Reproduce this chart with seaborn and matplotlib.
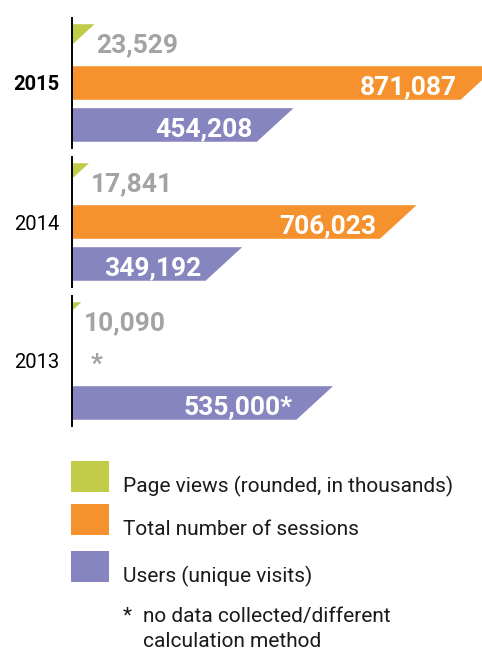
import numpy as np
import pandas as pd
import matplotlib
matplotlib.use("Agg")
import matplotlib.pyplot as plt
import seaborn as sns
from matplotlib.patches import Polygon, Rectangle

# ---- data -------------------------------------------------------------
years = ["2015", "2014", "2013"]
year_bold = [True, False, False]
page_views = [23529, 17841, 10090]          # rounded, in thousands
sessions = [871087, 706023, np.nan]         # 2013: not collected
users = [454208, 349192, 535000]
users_marks = ["", "", "*"]
series = ["Page views (rounded, in thousands)",
          "Total number of sessions",
          "Users (unique visits)"]
colors = ["#c1cb47", "#f6922e", "#8785c0"]
footnote_lines = ["no data collected/different", "calculation method"]

# page views are drawn as small markers on a compressed scale
PV_SCALE = 2.0

# ---- layout (pixels) --------------------------------------------------
W, H = 482, 652
AX_L, AX_R, AX_T, AX_B = 71.5, 482.0, 0.0, 440.0
GROUP_PX = 139.0          # distance between year groups
FIRST_CENTER = 83.0       # centre of the first group
XMAX = 840000
SLANT = 1.09              # horizontal cut per pixel of bar height
BAR_W, BAR_GAP = 0.906, 0.2

sns.set_theme(style="white")
plt.rcParams["font.family"] = ["Roboto", "DejaVu Sans"]

rows = []
for i, y in enumerate(years):
    rows.append(dict(year=y, series=series[0], length=page_views[i] * PV_SCALE,
                     label=f"{page_views[i]:,}"))
    if not np.isnan(sessions[i]):
        rows.append(dict(year=y, series=series[1], length=sessions[i],
                         label=f"{int(sessions[i]):,}"))
    rows.append(dict(year=y, series=series[2], length=users[i],
                     label=f"{users[i]:,}{users_marks[i]}"))
df = pd.DataFrame(rows)

fig = plt.figure(figsize=(W / 100, H / 100), dpi=100)

# legend / footnote canvas in pixel coordinates
lax = fig.add_axes([0, 0, 1, 1])
lax.set_xlim(0, W)
lax.set_ylim(H, 0)
lax.axis("off")

ax = fig.add_axes([AX_L / W, 1 - AX_B / H, (AX_R - AX_L) / W, (AX_B - AX_T) / H])
sns.barplot(data=df, x="length", y="year", hue="series", order=years,
            hue_order=series, palette=colors, orient="h", width=BAR_W,
            gap=BAR_GAP, errorbar=None, saturation=1, legend=False, ax=ax)

ax.set_xlim(0, XMAX)
ax.set_ylim((AX_B - FIRST_CENTER) / GROUP_PX, (AX_T - FIRST_CENTER) / GROUP_PX)
sns.despine(ax=ax, left=True, bottom=True)
ax.set_xticks([])
ax.set_xlabel("")
ax.set_ylabel("")
ax.set_facecolor("none")

px_per_x = (AX_R - AX_L) / XMAX
step = BAR_W / 3

# replace each rectangle by a bar with a slanted right end
for patch in list(ax.patches):
    x0, y0 = patch.get_x(), patch.get_y()
    w, h = patch.get_width(), patch.get_height()
    if not np.isfinite(w) or w <= 0:
        patch.remove()
        continue
    cy = y0 + h / 2
    yi = int(round(cy))
    si = int(round((cy - yi) / step)) + 1
    color = patch.get_facecolor()
    patch.remove()
    s = SLANT * h * GROUP_PX / px_per_x
    if w >= s:
        verts = [(x0, y0), (x0 + w, y0), (x0 + w - s, y0 + h), (x0, y0 + h)]
    else:
        verts = [(x0, y0), (x0 + w, y0), (x0, y0 + h * w / s)]
    ax.add_patch(Polygon(verts, closed=True, facecolor=color, edgecolor="none"))

    lab = df[(df.year == years[yi]) & (df.series == series[si])]["label"].iloc[0]
    if si == 0:
        ax.annotate(lab, xy=(x0 + w, cy), xytext=(2, -11), textcoords="offset pixels",
                    ha="left", va="baseline", color="#a3a3a3",
                    fontsize=19, fontweight="bold")
    else:
        ax.annotate(lab, xy=(x0 + w - s, cy), xytext=(-4, -11), textcoords="offset pixels",
                    ha="right", va="baseline", color="white",
                    fontsize=19, fontweight="bold")

# marker for the missing sessions value
for i, y in enumerate(years):
    if np.isnan(sessions[i]):
        ax.annotate("*", xy=(0, i), xytext=(19, -11), textcoords="offset pixels",
                    ha="left", va="baseline", color="#a3a3a3",
                    fontsize=19, fontweight="bold")

# group separators along the value axis
for i in range(len(years)):
    ax.vlines(0, i - 0.475, i + 0.475, color="black", lw=1.4, clip_on=False)

ax.set_yticks(range(len(years)))
ax.set_yticklabels(years)
ax.tick_params(axis="y", length=0, pad=8.5, labelsize=14.5, labelcolor="black")
for t, b in zip(ax.get_yticklabels(), year_bold):
    t.set_fontweight("bold" if b else "normal")

# legend
sq_tops = [461, 504, 551]
for top, c, name in zip(sq_tops, colors, series):
    lax.add_patch(Rectangle((71, top), 38, 31, facecolor=c, edgecolor="none"))
    lax.text(123, top + 31, name, ha="left", va="baseline", fontsize=15, color="#1a1a1a")

lax.text(123, 622, "*", ha="left", va="baseline", fontsize=15, color="#1a1a1a")
for k, line in enumerate(footnote_lines):
    lax.text(143, 622 + 25 * k, line, ha="left", va="baseline", fontsize=15, color="#1a1a1a")

fig.savefig("out.png", dpi=100)
